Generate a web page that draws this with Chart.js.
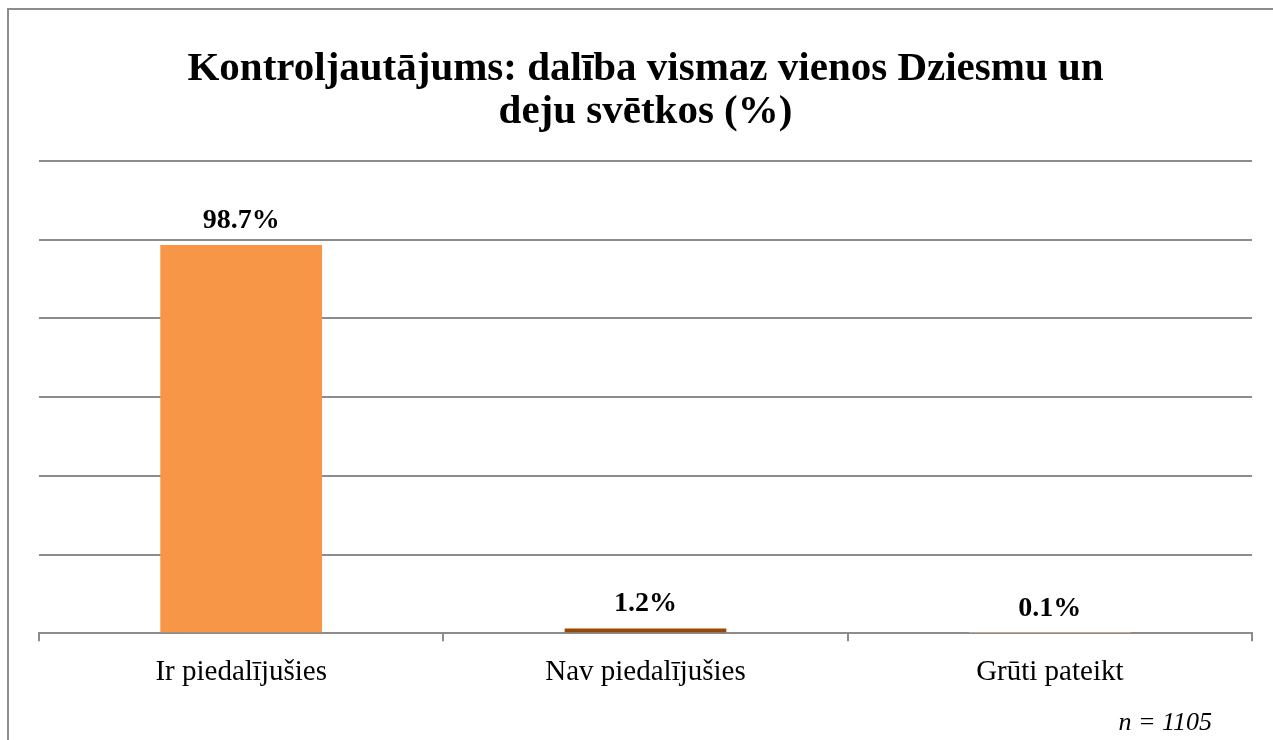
<!DOCTYPE html>
<html>
<head>
<meta charset="utf-8">
<script src="https://cdn.jsdelivr.net/npm/chart.js@4"></script>
<style>
  html, body { margin: 0; padding: 0; background: #fff; }
  #wrap { width: 1273px; height: 740px; }
</style>
</head>
<body>
<div id="wrap"><canvas id="c"></canvas></div>
<script>
const titleLines = ['Kontroljautājums: dalība vismaz vienos Dziesmu un', 'deju svētkos (%)'];
const categories = ['Ir piedalījušies', 'Nav piedalījušies', 'Grūti pateikt'];
const shares = [98.7, 1.2, 0.1];
const barColors = ['#F79646', '#984807', '#FAC090'];
const sampleNote = 'n = 1105';

const SERIF = '"Liberation Serif", "Times New Roman", serif';
const GRID = '#8c8c8c';

// рамка слева и сверху, как в исходной картинке
const framePlugin = {
  id: 'frame',
  beforeDraw(chart) {
    const ctx = chart.ctx;
    ctx.save();
    ctx.strokeStyle = '#8c8c8c';
    ctx.lineWidth = 2;
    ctx.beginPath();
    ctx.moveTo(8, 740);
    ctx.lineTo(8, 9);
    ctx.lineTo(1273, 9);
    ctx.stroke();
    ctx.restore();
  },
};

// подписи значений над столбцами + n
const valueLabels = {
  id: 'valueLabels',
  afterDatasetsDraw(chart) {
    const ctx = chart.ctx;
    const meta = chart.getDatasetMeta(0);
    ctx.save();
    ctx.font = 'bold 28px ' + SERIF;
    ctx.fillStyle = '#000';
    ctx.textAlign = 'center';
    ctx.textBaseline = 'alphabetic';
    meta.data.forEach((bar, i) => {
      ctx.fillText(shares[i].toFixed(1) + '%', bar.x, bar.y - 17);
    });
    ctx.font = 'italic 26px ' + SERIF;
    ctx.textAlign = 'right';
    ctx.fillText(sampleNote, 1212, 730);
    ctx.restore();
  },
};

new Chart(document.getElementById('c'), {
  type: 'bar',
  data: {
    labels: categories,
    datasets: [{
      data: shares,
      backgroundColor: barColors,
      borderWidth: 0,
      categoryPercentage: 1,
      barPercentage: 0.4,
    }],
  },
  options: {
    responsive: true,
    maintainAspectRatio: false,
    animation: false,
    layout: { padding: { left: 39, right: 21, top: 0, bottom: 36 } },
    plugins: {
      legend: { display: false },
      tooltip: { enabled: false },
      title: {
        display: true,
        text: titleLines,
        color: '#000',
        font: { family: SERIF, size: 41, weight: 'bold', lineHeight: 1.05 },
        padding: { top: 48, bottom: 27 },
      },
    },
    scales: {
      x: {
        offset: true,
        grid: { offset: true, drawOnChartArea: false, color: GRID, lineWidth: 2, tickLength: 8 },
        border: { color: GRID, width: 2 },
        ticks: { color: '#000', font: { family: SERIF, size: 29 }, padding: 14, maxRotation: 0 },
      },
      y: {
        min: 0,
        max: 120,
        ticks: { stepSize: 20, display: false },
        grid: { color: GRID, lineWidth: 2, drawTicks: false },
        border: { display: false },
      },
    },
  },
  plugins: [framePlugin, valueLabels],
});
</script>
</body>
</html>
